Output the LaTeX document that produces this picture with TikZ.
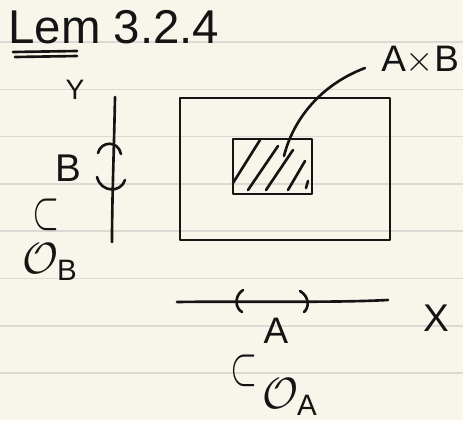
\documentclass[tikz,border=0pt]{standalone}
\usepackage{amsmath}
\usepackage{fontspec}
\setmainfont{Liberation Sans}
\usetikzlibrary{positioning}
\definecolor{cpaper}{HTML}{F8F6EB}
\definecolor{crule}{HTML}{DAD9D4}
\definecolor{cink}{HTML}{141414}
\tikzset{
  every picture/.style={line width=1.5pt, line cap=round, line join=round},
  ink/.style={draw=cink},
  rule/.style={draw=crule, line width=0.9pt},
  hand/.style={text=cink, inner sep=0pt, font=\fontsize{#1}{#1}\selectfont},
  hand/.default=20,
  region/.style={draw=cink, inner sep=0pt},
  subset/.style={hand=24, xscale=0.8, yscale=1.25},
}

\begin{document}
\begin{tikzpicture}[x=0.02cm, y=-0.02cm]
  \fill[cpaper] (0,0) rectangle (463,420);
  \useasboundingbox (0,0) rectangle (463,420);
  \foreach \k in {0,...,7}
    \draw[rule] (0,{42+47.3*\k}) -- (463,{42+47.3*\k});

  % title
  \node[hand=27, anchor=base west] (lem) at (7,43) {Lem 3.2.4};
  \draw[ink] (13,52) -- (77,51);
  \draw[ink] (15,57) -- (77,56);

  % product of the two open sets
  \node[region, minimum width=4.2cm, minimum height=2.84cm] (prod) at (285,169) {};
  \node[region, minimum width=1.58cm, minimum height=1.1cm] (box) at (272.5,166.5) {};
  \begin{scope}
    \clip (box.south west) rectangle (box.north east);
    \foreach \a/\b/\c/\d in {233/183/260/140, 248/190/278/146, 266/190/293/150, 288/190/305/161, 306/188/308/181}
      \draw[ink] (\a,\b) -- (\c,\d);
  \end{scope}
  \node[hand=21, anchor=west] (axb) at (380,60) {A$\times$B};
  \draw[ink] ([xshift=-0.3cm, yshift=-0.16cm]axb.west) .. controls (320,85) and (293,120) .. ([xshift=0.23cm, yshift=0.21cm]box.center);

  % Y axis with B
  \draw[ink] (115,97) .. controls (114,150) and (112,200) .. (112,242);
  \node[hand=16] (ylab) at (75,90) {Y};
  \draw[ink] (98,153) .. controls (101,141) and (118,140) .. (121,154);
  \draw[ink] (97,177) .. controls (101,193) and (121,193) .. (125,180);
  \node[hand=22] (blab) at (68,168) {B};
  \node[subset] (subB) at (46,215) {$\subset$};
  \node[hand=24] (oB) at (50,262) {$\mathcal{O}_{\text{B}}$};

  % X axis with A
  \draw[ink] (177,302) .. controls (250,301) and (330,303) .. (388,300);
  \node[hand=22] (xlab) at (436,318) {X};
  \draw[ink] (243,290) .. controls (234,296) and (235,308) .. (242,312);
  \draw[ink] (300,291) .. controls (310,297) and (309,308) .. (304,312);
  \node[hand=21] (alab) at (276,331) {A};
  \node[subset] (subA) at (244,371) {$\subset$};
  \node[hand=24] (oA) at (290,397) {$\mathcal{O}_{\text{A}}$};
\end{tikzpicture}
\end{document}
